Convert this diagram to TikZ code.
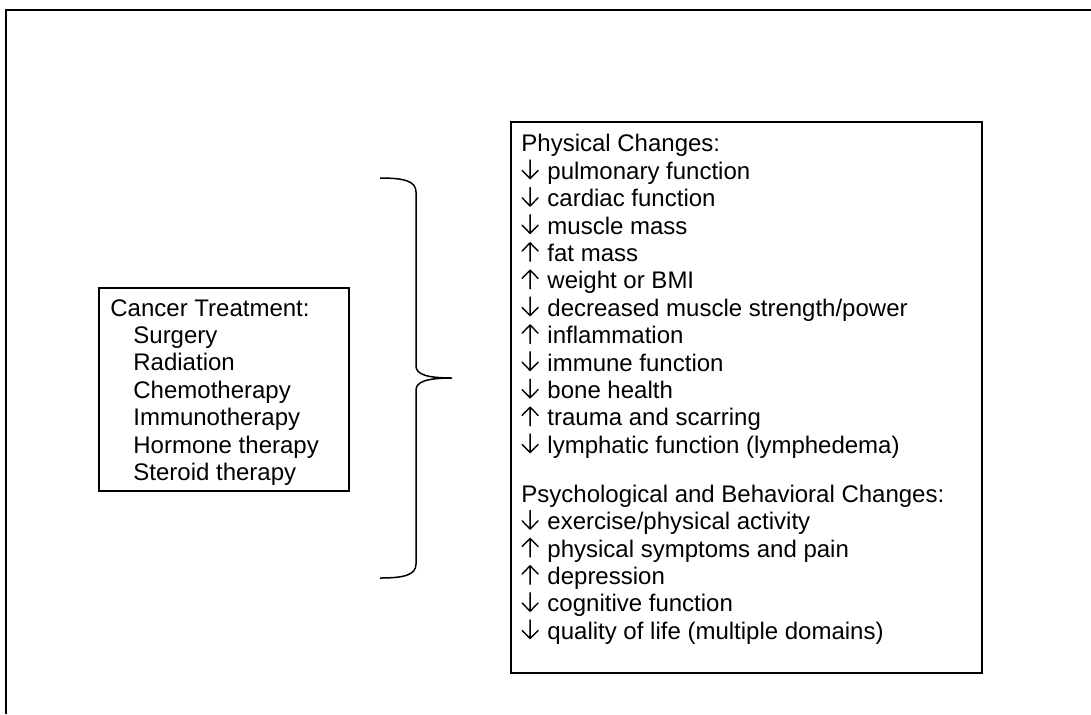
\documentclass[tikz,border=0pt]{standalone}
\usepackage{fontspec}
\setmainfont{Liberation Sans}
\newcommand{\dnarr}{\tikz[baseline=0pt,x=1pt,y=1pt]\draw[line width=0.7pt,line cap=round,line join=round] (4.5,0.3)--(4.5,9.6) (0.5,4.4)--(4.5,0.3)--(8.5,4.4);\kern1pt}
\newcommand{\uparr}{\tikz[baseline=0pt,x=1pt,y=1pt]\draw[line width=0.7pt,line cap=round,line join=round] (4.5,0)--(4.5,9.3) (0.5,5.2)--(4.5,9.3)--(8.5,5.2);\kern1pt}
\begin{document}
\begin{tikzpicture}[x=0.5pt,y=-0.5pt,
  frameline/.style={line width=1pt,black},
  boxline/.style={draw,line width=0.8pt,black,inner sep=0pt},
  txt/.style={inner sep=0pt,anchor=north west,align=left,font=\fontsize{12}{13.7}\selectfont},
  braceline/.style={line width=0.75pt,black}]
\useasboundingbox (0,0) rectangle (1091,714);
% outer frame (only top and left visible)
\draw[frameline] (6,714) -- (6,10) -- (1091,10);
% left box
\node[boxline,anchor=north west,minimum width=125pt,minimum height=101.5pt] (treatbox) at (98,287) {};
\node[txt] (treat) at (110,299) {Cancer Treatment:\\
\hspace*{11.5pt}Surgery\\
\hspace*{11.5pt}Radiation\\
\hspace*{11.5pt}Chemotherapy\\
\hspace*{11.5pt}Immunotherapy\\
\hspace*{11.5pt}Hormone therapy\\
\hspace*{11.5pt}Steroid therapy};
% right box
\node[boxline,anchor=north west,minimum width=235.5pt,minimum height=275.5pt] (physbox) at (510,121) {};
\node[txt] (phys) at (521,134) {Physical Changes:\\
\dnarr{} pulmonary function\\
\dnarr{} cardiac function\\
\dnarr{} muscle mass\\
\uparr{} fat mass\\
\uparr{} weight or BMI\\
\dnarr{} decreased muscle strength/power\\
\uparr{} inflammation\\
\dnarr{} immune function\\
\dnarr{} bone health\\
\uparr{} trauma and scarring\\
\dnarr{} lymphatic function (lymphedema)\\[10.8pt]
Psychological and Behavioral Changes:\\
\dnarr{} exercise/physical activity\\
\uparr{} physical symptoms and pain\\
\uparr{} depression\\
\dnarr{} cognitive function\\
\dnarr{} quality of life (multiple domains)};
% brace
\coordinate (bracetop) at (380,178);
\coordinate (bracetip) at (452,378);
\coordinate (bracebot) at (380,578);
\draw[braceline] (bracetop) .. controls (404,178) and (416,181) .. (416,192)
  -- (416,366) .. controls (416,374) and (426,378) .. (bracetip)
  .. controls (426,378) and (416,382) .. (416,390)
  -- (416,564) .. controls (416,575) and (404,578) .. (bracebot);
\end{tikzpicture}
\end{document}
